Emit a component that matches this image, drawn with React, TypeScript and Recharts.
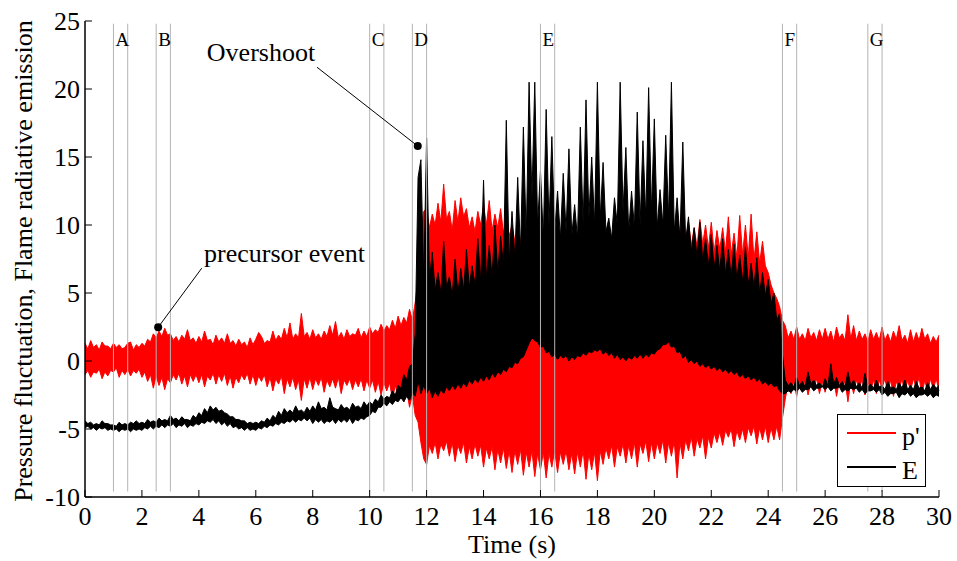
import { Area, ComposedChart, Legend, ReferenceDot, ReferenceLine, XAxis, YAxis } from 'recharts';

const FONT = '"Liberation Serif", "Times New Roman", serif';
const RED = '#ff0000';
const GREY = '#b4b4b4';

// sampling step of the envelope arrays (s)
const STEP = 0.1;
const xTicks = [0, 2, 4, 6, 8, 10, 12, 14, 16, 18, 20, 22, 24, 26, 28, 30];
const yTicks = [-10, -5, 0, 5, 10, 15, 20, 25];

// p' envelope, one value every 0.1 s (one row per second)
const pHi = [
  1.3, 0.9, 1.5, 1.0, 1.2, 0.8, 1.4, 1.1, 1.1, 0.9,
  1.3, 1.0, 1.2, 0.9, 1.0, 1.3, 1.4, 0.8, 1.2, 1.0,
  1.3, 1.1, 1.6, 1.4, 2.0, 1.7, 2.2, 1.8, 2.4, 1.9,
  2.0, 1.5, 1.8, 1.4, 1.9, 1.6, 2.3, 1.5, 1.7, 1.3,
  1.8, 1.4, 2.2, 1.5, 1.6, 1.2, 1.9, 1.4, 1.7, 1.3,
  2.0, 1.3, 1.5, 1.1, 1.6, 1.2, 1.4, 1.0, 1.7, 1.2,
  1.6, 2.1, 1.8, 1.3, 1.5, 1.4, 2.2, 1.5, 1.9, 1.6,
  2.4, 1.7, 2.8, 1.6, 2.0, 1.7, 3.5, 1.8, 2.1, 1.6,
  2.3, 1.7, 2.0, 1.6, 2.2, 1.8, 2.6, 1.9, 2.9, 1.7,
  2.1, 1.6, 2.3, 1.8, 2.0, 1.9, 2.4, 1.7, 2.2, 1.8,
  2.5, 2.0, 2.3, 2.1, 2.7, 2.2, 2.6, 2.3, 3.0, 2.4,
  3.3, 2.6, 3.2, 2.8, 3.8, 3.0, 4.3, 6.0, 9.5, 11.0,
  11.2, 9.8, 10.8, 10.0, 11.6, 10.2, 13.0, 10.4, 11.0, 9.6,
  11.8, 10.2, 12.0, 10.6, 11.2, 9.8, 10.6, 9.5, 11.0, 10.0,
  11.5, 10.0, 11.8, 9.6, 10.8, 9.8, 11.2, 9.4, 10.5, 9.2,
  10.0, 8.8, 9.6, 8.6, 10.4, 8.8, 9.4, 8.2, 9.0, 8.0,
  9.8, 8.2, 9.0, 7.8, 8.8, 7.9, 9.5, 8.0, 9.0, 7.8,
  8.6, 7.6, 9.2, 7.8, 8.8, 7.5, 8.5, 7.6, 9.0, 8.0,
  9.5, 8.2, 10.5, 8.4, 9.8, 8.0, 9.2, 8.1, 9.6, 8.3,
  9.0, 8.0, 9.4, 8.2, 9.2, 8.0, 9.8, 8.4, 9.5, 8.2,
  9.6, 8.4, 10.0, 8.6, 10.5, 9.0, 11.5, 9.2, 11.0, 9.0,
  10.5, 8.8, 10.2, 8.5, 9.8, 8.4, 10.4, 8.6, 10.0, 8.3,
  10.2, 8.0, 9.6, 8.2, 9.8, 8.0, 10.6, 7.8, 9.4, 7.6,
  10.7, 7.8, 10.0, 7.6, 10.8, 7.4, 9.5, 7.2, 8.8, 7.0,
  6.5, 5.6, 5.0, 4.6, 4.0, 3.0, 2.6, 1.7, 2.2, 1.6,
  2.5, 1.6, 2.0, 1.5, 2.4, 1.7, 2.1, 1.5, 2.3, 1.6,
  2.4, 1.6, 2.2, 1.4, 2.5, 1.7, 2.0, 1.5, 3.4, 1.6,
  2.6, 1.5, 2.2, 1.6, 2.0, 1.4, 2.3, 1.6, 2.1, 1.5,
  2.5, 1.5, 2.0, 1.4, 2.2, 1.6, 2.6, 1.5, 1.9, 1.3,
  2.3, 1.4, 2.1, 1.5, 2.4, 1.6, 2.0, 1.3, 1.8, 1.4,
  1.9,
];
const pLo = [
  -1.0, -0.7, -1.2, -0.8, -0.9, -0.6, -1.3, -0.8, -1.1, -0.7,
  -0.8, -0.5, -1.2, -0.7, -1.0, -0.6, -1.1, -0.7, -0.9, -0.6,
  -1.2, -0.8, -1.5, -1.0, -2.0, -1.1, -1.8, -1.2, -2.1, -1.3,
  -1.6, -1.0, -1.4, -0.9, -1.7, -1.1, -1.9, -1.0, -1.5, -1.0,
  -1.6, -1.0, -1.9, -1.1, -1.4, -0.9, -1.7, -1.0, -1.5, -0.9,
  -1.8, -1.1, -2.0, -1.2, -1.6, -1.0, -1.4, -0.9, -1.7, -1.0,
  -1.8, -1.1, -1.5, -1.0, -1.9, -1.2, -2.2, -1.3, -1.7, -1.1,
  -2.4, -1.3, -1.9, -1.2, -2.1, -1.4, -2.9, -1.3, -2.0, -1.2,
  -2.1, -1.3, -1.8, -1.2, -2.3, -1.4, -1.9, -1.3, -2.0, -1.2,
  -2.4, -1.4, -1.8, -1.3, -2.1, -1.4, -1.9, -1.3, -2.2, -1.4,
  -2.0, -1.4, -2.3, -1.5, -2.5, -1.6, -2.2, -1.6, -2.8, -1.8,
  -2.6, -1.9, -3.0, -2.1, -3.4, -2.5, -4.0, -4.5, -6.0, -7.2,
  -7.6, -6.2, -6.8, -6.0, -7.2, -6.1, -6.6, -5.9, -7.0, -6.0,
  -7.4, -6.2, -6.8, -6.0, -7.5, -6.3, -7.2, -6.1, -7.0, -6.2,
  -7.8, -6.4, -7.2, -6.3, -8.0, -6.5, -7.5, -6.4, -7.9, -6.6,
  -8.2, -6.6, -7.6, -6.5, -8.4, -6.7, -7.8, -6.6, -8.5, -6.8,
  -8.0, -6.7, -8.6, -6.8, -7.8, -6.6, -8.2, -6.7, -7.6, -6.6,
  -8.0, -6.8, -8.3, -6.7, -7.8, -6.6, -8.7, -6.8, -8.0, -6.7,
  -8.8, -6.6, -7.6, -6.4, -7.2, -6.2, -7.8, -6.3, -7.0, -6.1,
  -7.5, -6.2, -7.2, -6.0, -7.8, -6.1, -6.8, -5.9, -7.4, -6.0,
  -7.2, -6.0, -6.8, -5.8, -7.5, -6.0, -7.0, -5.9, -8.6, -6.0,
  -7.2, -5.8, -6.6, -5.6, -7.0, -5.7, -6.4, -5.5, -7.2, -5.6,
  -6.4, -5.3, -6.0, -5.2, -6.2, -5.1, -5.6, -5.0, -6.3, -5.1,
  -5.8, -5.0, -6.0, -4.9, -5.5, -4.8, -6.1, -4.9, -5.8, -4.8,
  -6.0, -4.9, -5.8, -4.8, -5.8, -4.2, -2.8, -1.6, -2.4, -1.5,
  -2.6, -1.5, -2.2, -1.4, -2.5, -1.6, -2.0, -1.3, -2.4, -1.5,
  -2.3, -1.4, -2.0, -1.3, -2.6, -1.5, -2.2, -1.4, -3.0, -1.5,
  -2.4, -1.4, -2.1, -1.3, -2.5, -1.5, -2.2, -1.4, -2.4, -1.4,
  -2.0, -1.3, -2.3, -1.4, -2.6, -1.5, -2.1, -1.3, -2.4, -1.4,
  -2.2, -1.3, -2.0, -1.2, -2.5, -1.4, -2.3, -1.3, -2.1, -1.3,
  -2.2,
];

// E envelope
const eHi = [
  -4.4, -4.6, -4.5, -4.7, -4.6, -4.7, -4.4, -4.6, -4.6, -4.7,
  -4.7, -4.8, -4.5, -4.7, -4.6, -4.7, -4.5, -4.6, -4.4, -4.6,
  -4.5, -4.6, -4.3, -4.5, -4.4, -4.5, -4.2, -4.4, -4.3, -4.4,
  -4.0, -4.3, -4.2, -4.4, -4.1, -4.3, -4.3, -4.4, -4.0, -4.2,
  -3.8, -4.0, -3.5, -3.8, -3.3, -3.6, -3.4, -3.7, -3.6, -3.8,
  -3.9, -4.1, -4.1, -4.3, -4.3, -4.4, -4.4, -4.6, -4.5, -4.6,
  -4.5, -4.6, -4.4, -4.5, -4.2, -4.4, -4.0, -4.2, -3.7, -4.0,
  -3.5, -3.8, -3.6, -3.8, -3.3, -3.7, -3.6, -3.8, -3.4, -3.7,
  -3.3, -3.6, -3.0, -3.5, -3.4, -3.6, -2.7, -3.4, -3.5, -3.6,
  -3.2, -3.5, -3.4, -3.6, -3.1, -3.4, -3.3, -3.5, -3.0, -3.3,
  -3.0, -3.2, -2.8, -3.0, -2.5, -2.8, -2.6, -2.7, -2.2, -2.5,
  -1.8, -2.0, -1.0, -1.4, -0.4, -0.2, 2.0, 13.5, 14.8, 6.0,
  16.4, 6.0, 8.0, 5.2, 6.5, 5.0, 8.8, 5.4, 6.2, 4.8,
  7.5, 5.0, 6.8, 5.2, 8.2, 5.4, 7.0, 5.6, 9.0, 5.8,
  13.3, 6.0, 8.5, 6.2, 10.0, 6.5, 9.2, 7.0, 17.7, 7.2,
  11.0, 7.5, 13.5, 8.0, 17.2, 9.0, 20.5, 12.0, 20.5, 10.0,
  14.0, 9.0, 18.5, 10.0, 16.5, 9.5, 12.5, 9.0, 13.8, 9.5,
  15.6, 9.2, 11.5, 9.0, 17.2, 10.0, 19.2, 10.5, 15.0, 10.0,
  20.5, 10.5, 14.6, 9.5, 10.5, 9.0, 12.0, 10.0, 20.5, 11.0,
  15.7, 9.5, 12.5, 9.8, 18.3, 10.0, 16.2, 10.5, 20.1, 11.0,
  17.8, 9.8, 12.6, 10.0, 16.6, 10.5, 20.5, 9.5, 12.0, 9.0,
  16.1, 8.8, 10.6, 8.0, 9.8, 7.6, 10.2, 7.4, 9.0, 7.0,
  9.3, 6.8, 8.5, 6.6, 9.0, 6.4, 8.2, 6.2, 8.6, 6.0,
  7.8, 5.8, 8.4, 5.6, 7.2, 5.4, 7.6, 5.0, 6.5, 4.8,
  6.0, 4.2, 5.0, 3.0, 3.5, 0.5, -1.4, -1.8, -1.6, -1.9,
  -1.2, -1.8, -1.5, -1.9, -0.8, -1.7, -1.4, -1.8, -1.6, -1.9,
  -1.3, -1.8, -0.2, -1.7, -1.2, -1.8, -1.5, -1.9, -0.8, -1.8,
  -1.4, -1.9, -1.6, -2.0, -0.9, -1.9, -1.7, -2.0, -1.4, -1.9,
  -1.8, -2.1, -1.5, -2.0, -1.9, -2.1, -1.6, -2.0, -1.4, -2.1,
  -1.8, -2.1, -1.5, -2.0, -1.9, -2.2, -1.6, -2.1, -1.7, -2.0,
  -1.8,
];
const eLo = [
  -4.9, -4.8, -5.0, -4.9, -5.1, -4.9, -5.0, -4.9, -5.1, -5.0,
  -5.1, -5.0, -5.2, -5.0, -5.1, -5.0, -5.2, -5.0, -5.1, -5.0,
  -5.1, -4.9, -5.0, -4.8, -5.0, -4.8, -4.9, -4.7, -4.9, -4.7,
  -4.8, -4.6, -4.9, -4.7, -4.8, -4.6, -4.9, -4.7, -4.8, -4.6,
  -4.7, -4.5, -4.6, -4.4, -4.5, -4.3, -4.6, -4.4, -4.7, -4.5,
  -4.8, -4.6, -4.9, -4.8, -5.0, -4.9, -5.1, -4.9, -5.1, -5.0,
  -5.1, -4.9, -5.0, -4.8, -4.9, -4.7, -4.8, -4.6, -4.7, -4.5,
  -4.6, -4.4, -4.5, -4.3, -4.5, -4.3, -4.4, -4.2, -4.4, -4.2,
  -4.6, -4.3, -4.5, -4.3, -4.6, -4.4, -4.5, -4.3, -4.6, -4.3,
  -4.5, -4.3, -4.5, -4.2, -4.6, -4.3, -4.4, -4.2, -4.3, -4.1,
  -4.0, -3.7, -3.8, -3.4, -3.4, -3.1, -3.3, -3.0, -3.2, -2.9,
  -3.0, -2.7, -3.0, -2.6, -2.9, -2.3, -2.6, -1.5, -2.4, -1.8,
  -2.4, -2.0, -2.7, -2.2, -2.6, -2.1, -2.4, -1.9, -2.2, -1.8,
  -2.1, -1.7, -2.0, -1.6, -1.9, -1.4, -1.7, -1.3, -1.6, -1.2,
  -1.5, -1.1, -1.4, -0.9, -1.2, -0.8, -1.0, -0.6, -0.8, -0.4,
  -0.5, -0.1, -0.2, 0.2, 0.3, 0.8, 1.3, 1.7, 1.5, 1.4,
  1.0, 1.1, 0.6, 0.7, 0.3, 0.5, 0.1, 0.4, 0.2, 0.4,
  0.0, 0.3, 0.1, 0.4, 0.3, 0.6, 0.4, 0.7, 0.6, 0.8,
  0.7, 0.9, 0.5, 0.7, 0.4, 0.6, 0.2, 0.5, 0.1, 0.3,
  0.0, 0.3, 0.1, 0.4, 0.2, 0.5, 0.2, 0.5, 0.3, 0.6,
  0.5, 0.8, 0.9, 1.2, 1.2, 1.4, 1.0, 1.1, 0.6, 0.7,
  0.2, 0.4, -0.1, 0.1, -0.2, 0.0, -0.4, -0.2, -0.5, -0.3,
  -0.6, -0.4, -0.7, -0.5, -0.8, -0.6, -0.9, -0.7, -1.0, -0.8,
  -1.2, -1.0, -1.3, -1.1, -1.4, -1.2, -1.5, -1.3, -1.7, -1.5,
  -1.8, -1.6, -1.9, -1.8, -2.2, -2.4, -2.4, -2.2, -2.3, -2.1,
  -2.2, -2.0, -2.3, -2.1, -2.1, -1.9, -2.2, -2.0, -2.0, -1.9,
  -2.1, -1.9, -2.2, -2.0, -2.0, -1.9, -2.3, -2.1, -2.2, -2.0,
  -2.1, -2.0, -2.3, -2.1, -2.4, -2.2, -2.2, -2.1, -2.3, -2.1,
  -2.5, -2.3, -2.6, -2.4, -2.4, -2.3, -2.7, -2.4, -2.5, -2.3,
  -2.6, -2.4, -2.7, -2.5, -2.5, -2.4, -2.6, -2.4, -2.7, -2.5,
  -2.6,
];

// marked time windows A..G
const markerNames = ['A', 'B', 'C', 'D', 'E', 'F', 'G'];
const markerStart = [1, 2.5, 10, 11.5, 16, 24.5, 27.5];
const markerEnd = [1.5, 3, 10.5, 12, 16.5, 25, 28];

const annotations = [
  { text: 'Overshoot', tx: 4.28, ty: 22.05, fromX: 8.15, fromY: 21.6, atX: 11.69, atY: 15.8 },
  { text: 'precursor event', tx: 4.18, ty: 7.25, fromX: 4.1, fromY: 6.82, atX: 2.57, atY: 2.48 },
];

const data = pHi.map((hi, i) => ({
  t: Math.round(i * STEP * 10) / 10,
  p: [pLo[i], hi],
  e: [eLo[i], eHi[i]],
}));

const XLabel = () => (
  <text x={512} y={553} textAnchor="middle" fontSize={26} fontFamily={FONT} fill="#000">Time (s)</text>
);

const YLabel = () => (
  <text x={32} y={261} transform="rotate(-90 32 261)" textAnchor="middle" fontSize={26} fontFamily={FONT} fill="#000">
    Pressure fluctuation, Flame radiative emission
  </text>
);

const LegendBox = () => (
  <svg width={89} height={73} style={{ display: 'block', fontFamily: FONT }}>
    <rect x={0.5} y={0.5} width={88} height={72} fill="#fff" stroke="#000" />
    <line x1={10} x2={59} y1={19} y2={19} stroke={RED} strokeWidth={2} />
    <text x={65} y={31} fontSize={26} fill="#000">p'</text>
    <line x1={10} x2={59} y1={53} y2={53} stroke="#000" strokeWidth={2} />
    <text x={65} y={65} fontSize={26} fill="#000">E</text>
  </svg>
);

const axisLine = { stroke: '#000', strokeWidth: 1.5 };
const tickStyle = { fill: '#000', fontSize: 26, fontFamily: FONT };

export default function App() {
  return (
    <div style={{ position: 'absolute', left: 0, top: 0, width: 957, height: 561, background: '#fff', fontFamily: FONT }}>
      <ComposedChart width={957} height={561} data={data} margin={{ top: 21, right: 18, bottom: 34, left: 25 }}>
        <XAxis type="number" dataKey="t" domain={[0, 30]} ticks={xTicks} interval={0} height={30}
          tickSize={-7} tickMargin={16.5} axisLine={axisLine} tickLine={{ stroke: '#000' }} tick={tickStyle}
          label={<XLabel />} />
        <XAxis xAxisId="top" orientation="top" type="number" dataKey="t" domain={[0, 30]} ticks={xTicks} interval={0}
          height={0} tickSize={-7} axisLine={axisLine} tickLine={{ stroke: '#000' }} tickFormatter={() => ''} />
        <YAxis type="number" domain={[-10, 25]} ticks={yTicks} interval={0} width={60}
          tickSize={-7} tickMargin={12} axisLine={axisLine} tickLine={{ stroke: '#000' }} tick={tickStyle}
          label={<YLabel />} />
        <YAxis yAxisId="right" orientation="right" type="number" domain={[-10, 25]} ticks={yTicks} interval={0} width={0}
          tickSize={-7} axisLine={axisLine} tickLine={{ stroke: '#000' }} tickFormatter={() => ''} />

        <Area type="linear" dataKey="p" stroke={RED} strokeWidth={1} fill={RED} fillOpacity={1}
          dot={false} activeDot={false} isAnimationActive={false} />
        <Area type="linear" dataKey="e" stroke="#000" strokeWidth={1} fill="#000" fillOpacity={1}
          dot={false} activeDot={false} isAnimationActive={false} />

        {markerStart.map((x) => (
          <ReferenceLine key={`s${x}`} segment={[{ x, y: -9.6 }, { x, y: 24.8 }]} stroke={GREY} strokeWidth={1} />
        ))}
        {markerEnd.map((x) => (
          <ReferenceLine key={`e${x}`} segment={[{ x, y: -9.6 }, { x, y: 24.8 }]} stroke={GREY} strokeWidth={1} />
        ))}
        {markerNames.map((name, i) => (
          <ReferenceDot key={name} x={markerStart[i]} y={23.16} r={0}
            shape={(props: any) => (
              <text x={props.cx + 2} y={props.cy} fontSize={19} fontFamily={FONT} fill="#000">{name}</text>
            )} />
        ))}

        {annotations.map((a) => (
          <ReferenceLine key={`l${a.text}`} segment={[{ x: a.fromX, y: a.fromY }, { x: a.atX, y: a.atY }]} stroke="#000" strokeWidth={1} />
        ))}
        {annotations.map((a) => (
          <ReferenceDot key={`d${a.text}`} x={a.atX} y={a.atY} r={4} fill="#000" stroke="none" />
        ))}
        {annotations.map((a) => (
          <ReferenceDot key={`t${a.text}`} x={a.tx} y={a.ty} r={0}
            shape={(props: any) => (
              <text x={props.cx} y={props.cy} fontSize={26} fontFamily={FONT} fill="#000">{a.text}</text>
            )} />
        ))}

        <Legend layout="horizontal" verticalAlign="middle" align="center"
          wrapperStyle={{ left: 837, top: 414, width: 89, height: 73 }} content={() => <LegendBox />} />
      </ComposedChart>
    </div>
  );
}
